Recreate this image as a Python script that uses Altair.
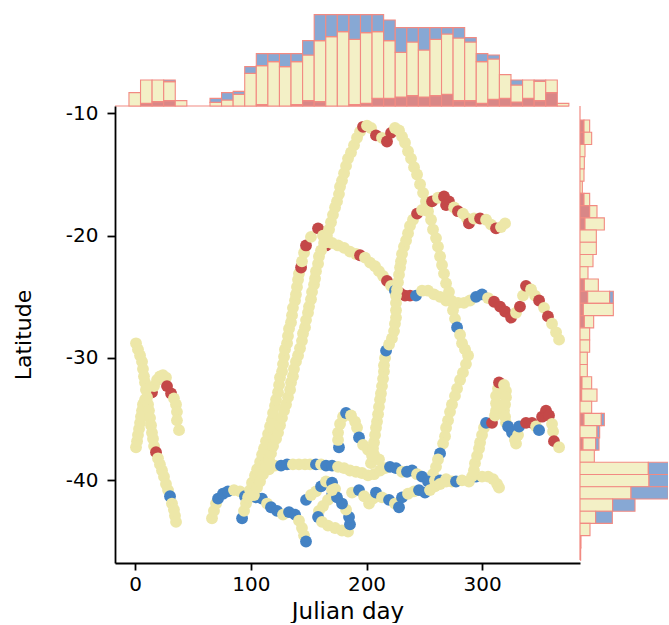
import altair as alt
import pandas as pd

# ---------------------------------------------------------------------------
# Tracks: Julian day, latitude and a class code per fix
# (Y = pale yellow, R = red, B = blue)
# ---------------------------------------------------------------------------
L2_day = [0.7, 1.6, 2.4, 3.3, 4.2, 5.0, 5.9, 6.7, 8.5, 11.1, 14.5, 16.3, 18.9, 21.4,
          24.0, 26.6, 27.5, 31.0, 33.5, 35.3, 36.1, 36.1, 37.9]
L2_lat = [-37.3, -36.8, -36.3, -35.8, -35.3, -34.8, -34.3, -33.8, -33.4, -33.0, -32.8,
          -32.3, -31.8, -31.5, -31.4, -31.6, -32.3, -32.9, -33.3, -33.8, -34.4, -35.1, -35.9]
L2_cls = "YYYYYYYYYYRYYYYYRRYYYYY"

L1_day = [0.7, 2.4, 4.2, 5.9, 6.7, 7.6, 8.5, 9.3, 10.2, 11.1, 11.9, 12.8, 13.7, 14.5,
          15.4, 16.3, 18.0, 19.7, 21.4, 23.2, 24.9, 26.6, 28.4, 30.1, 31.8, 33.5, 34.4, 35.3]
L1_lat = [-28.8, -29.3, -29.8, -30.3, -30.9, -31.5, -32.0, -32.6, -33.2, -33.8, -34.3,
          -34.9, -35.5, -36.1, -36.6, -37.2, -37.7, -38.2, -38.7, -39.2, -39.7, -40.3,
          -40.8, -41.3, -41.9, -42.4, -42.9, -43.4]
L1_cls = "YYYYYYYYYYYYYYYYRYYYYYYBYYYY"

N1_day = [66.4, 68.1, 69.9, 71.6, 75.9, 80.2, 85.4, 90.6, 94.9, 99.3, 104.5, 109.6,
          114.0, 117.4, 122.6, 127.8, 133.0, 138.2, 141.6, 144.2, 146.0, 147.7]
N1_lat = [-43.1, -42.5, -41.9, -41.5, -41.1, -40.9, -40.8, -40.9, -41.3, -41.4, -41.4,
          -41.5, -41.9, -42.2, -42.5, -42.8, -42.6, -42.8, -43.3, -43.9, -44.5, -45.0]
N1_cls = "YYYBBBYYBYBBYBBYBBYYYB"

N2_day = [115.7, 120.9, 126.1, 131.3, 136.4, 141.6, 146.8, 151.2, 156.3, 160.7, 165.0,
          170.2, 175.4, 180.6, 185.7, 190.9, 196.1]
N2_lat = [-39.1, -38.8, -38.8, -38.7, -38.7, -38.7, -38.7, -38.7, -38.7, -38.7, -38.8,
          -38.8, -38.9, -39.0, -39.2, -39.3, -39.4]
N2_cls = "YYBBYYYYBYBBYYYYY"

TA_day = [92.4, 94.1, 95.8, 97.6, 99.3, 101.0, 103.6, 105.4, 108.0, 109.7,
          111.4, 113.1, 114.9, 116.6, 118.3, 119.2, 120.9, 121.8, 123.5, 124.4,
          125.2, 127.0, 127.8, 128.7, 129.5, 131.3, 132.1, 133.0, 134.7, 135.6,
          136.4, 138.2, 139.0, 139.9, 140.8, 141.6, 143.4, 144.2, 146.0, 147.7,
          152.0, 158.1]
TA_lat = [-43.1, -42.5, -41.9, -41.4, -40.8, -40.2, -39.6, -39.1, -38.5, -37.9,
          -37.4, -36.8, -36.2, -35.6, -35.1, -34.5, -33.9, -33.4, -32.8, -32.2,
          -31.6, -31.1, -30.5, -29.9, -29.3, -28.8, -28.2, -27.6, -27.1, -26.5,
          -25.9, -25.3, -24.8, -24.2, -23.6, -23.1, -22.6, -22.1, -21.4, -20.8,
          -20.1, -19.4]
TA_cls = ("BYYYYYYYYY" "YYYYYYYYYY" "YYYYYYYYYY" "YYYYYYRYYR" "YR")

T4_day = [162.4, 165.0, 170.2, 175.4, 180.6, 185.7, 190.9, 194.4, 198.7, 203.1,
          207.4, 210.8, 214.3, 217.7, 221.2, 224.6, 229.0, 233.3, 237.6, 242.8,
          248.0, 253.2, 258.4, 263.6, 268.8, 273.9, 279.1, 284.3, 289.5, 294.7,
          299.9, 305.1, 310.3, 315.5, 319.8, 325.0, 329.3, 332.7, 335.3, 337.9,
          342.3, 345.7, 349.2, 353.5, 356.9, 360.4, 363.9, 366.5]
T4_lat = [-20.0, -20.8, -20.6, -20.8, -21.0, -21.3, -21.5, -21.6, -21.8, -22.2,
          -22.5, -22.9, -23.3, -23.7, -24.1, -24.5, -24.7, -24.9, -24.9, -24.9,
          -24.5, -24.5, -24.8, -25.0, -25.3, -25.4, -25.5, -25.5, -25.3, -25.0,
          -24.8, -25.1, -25.4, -25.8, -26.2, -26.7, -26.3, -25.8, -24.9, -24.1,
          -24.4, -24.9, -25.3, -25.9, -26.6, -27.2, -27.9, -28.5]
T4_cls = "YRYYYYYRYYYYYRYBRRRBYYYYYYYYYBBYRRRRYRYRYYRYRYYY"

TB_day = [102.7, 105.3, 107.9, 110.5, 113.1, 115.7, 117.4, 119.2, 121.8, 123.5,
          125.2, 126.9, 128.7, 130.4, 132.1, 133.9, 134.7, 136.4, 137.3, 139.0,
          140.8, 142.5, 144.2, 145.1, 146.8, 147.7, 149.4, 150.3, 152.0, 152.9,
          154.6, 155.5, 156.3, 158.1, 158.9, 160.7, 163.3, 165.8, 167.6, 169.3,
          171.0, 172.8, 174.5, 176.2, 177.1, 178.8, 180.6, 182.3, 184.0, 186.6,
          189.2, 191.8, 194.4, 197.0, 200.4, 203.9, 208.2, 213.4, 217.7, 221.2,
          224.6, 228.1, 230.7, 233.3, 235.9, 238.5, 241.1, 243.7, 246.3, 248.9,
          251.4, 253.2, 255.8, 257.5, 260.1, 261.8, 263.6, 265.3, 267.0, 268.8,
          271.3, 273.1, 274.8, 276.5, 278.3, 280.9, 282.6, 285.2, 287.8, 286.0,
          283.4, 280.9, 278.3, 276.5, 273.9, 272.2, 270.5, 268.8, 267.9, 266.2,
          263.6, 261.8, 260.1, 257.5, 254.9]
TB_lat = [-41.2, -40.6, -40.1, -39.5, -38.9, -38.3, -37.8, -37.2, -36.6, -36.1,
          -35.5, -34.9, -34.3, -33.8, -33.2, -32.6, -32.0, -31.5, -30.9, -30.3,
          -29.8, -29.2, -28.6, -28.0, -27.5, -26.9, -26.3, -25.8, -25.2, -24.6,
          -24.0, -23.5, -22.9, -22.3, -21.7, -21.2, -20.6, -20.0, -19.5, -18.9,
          -18.3, -17.7, -17.2, -16.6, -16.0, -15.5, -14.9, -14.3, -13.7, -13.2,
          -12.6, -12.0, -11.5, -11.1, -11.0, -11.2, -11.8, -12.0, -12.3, -11.6,
          -11.2, -11.4, -11.9, -12.4, -13.1, -13.7, -14.4, -15.0, -15.8, -16.5,
          -17.2, -18.0, -18.7, -19.5, -20.2, -20.9, -21.7, -22.4, -23.1, -23.9,
          -24.6, -25.3, -26.1, -26.8, -27.5, -28.1, -28.8, -29.3, -29.8, -30.5,
          -31.2, -31.8, -32.5, -33.1, -33.8, -34.4, -35.1, -35.7, -36.4, -37.0,
          -37.8, -38.3, -38.9, -39.5, -40.1]
TB_cls = ("YYYYYYYYYY" "YYYYYYYYYY" "YYYYYYYYYY" "YYYYYYYYYY" "YYYYYYYYYY"
          "YYYRYYRYRR" "YYYYYYYYYY" "YYYYYYYYYY" "YYYYBYYYYY" "YYYYYYYYYY" "BYYYY")

A1_day = [176.2, 175.4, 175.4, 177.1, 179.7, 182.3, 186.6, 190.1, 191.8, 193.5, 197.0,
          201.3, 206.5, 210.8]
A1_lat = [-37.3, -36.7, -36.1, -35.4, -34.8, -34.5, -34.7, -35.2, -35.7, -36.5, -37.1,
          -37.5, -37.9, -38.3]
A1_cls = "BYYYYBYYYBYYYY"

N3_day = [147.7, 152.0, 156.3, 160.7, 165.0, 170.2, 172.8, 170.2, 166.7, 162.4, 158.9,
          158.1, 161.5, 166.7, 172.8, 178.8, 184.0, 185.7, 184.9, 182.3, 178.8, 174.5, 170.2]
N3_lat = [-41.6, -41.2, -40.9, -40.5, -40.1, -40.2, -40.7, -41.2, -41.6, -42.1, -42.5,
          -43.0, -43.4, -43.7, -43.9, -44.1, -44.2, -43.6, -43.0, -42.4, -41.9, -41.4, -40.8]
N3_cls = "BYYBYBYBYYYBYYYYYBBYBBY"

N5_day = [201.3, 206.5, 211.7, 216.0, 220.3, 225.5, 230.7, 235.0, 239.4, 243.7, 248.0,
          253.2, 259.2, 263.6, 268.8]
N5_lat = [-39.6, -39.5, -39.2, -39.0, -38.9, -39.0, -39.3, -39.3, -39.2, -39.5, -39.7,
          -40.1, -40.0, -40.0, -39.9]
N5_cls = "YYYYBBYBBYBBYBY"

N4_day = [187.5, 193.5, 197.9, 202.2, 205.6, 208.2, 213.4, 219.5, 224.6, 228.1, 230.7,
          235.9, 241.1, 245.4, 250.6, 254.9, 259.2, 263.6, 268.8, 273.9, 277.4, 282.6,
          288.6, 294.7, 299.9, 305.1, 309.4, 312.9, 314.6]
N4_lat = [-41.0, -40.8, -41.3, -41.9, -41.5, -41.0, -41.4, -41.6, -41.9, -42.2, -41.4,
          -41.1, -40.9, -40.8, -41.0, -40.8, -40.5, -40.3, -40.1, -40.1, -40.1, -40.0,
          -40.1, -39.7, -39.7, -39.7, -39.9, -40.3, -40.6]
N4_cls = "YBYYYBYBYBBYYBBYYYYYBYYBYYYYY"

T3_day = [203.9, 204.8, 205.6, 206.5, 207.4, 208.2, 209.1, 210.0, 210.8, 211.7,
          212.5, 213.4, 214.3, 215.1, 215.1, 216.0, 216.9, 219.5, 222.0, 223.8,
          224.6, 225.5, 225.5, 225.5, 225.5, 226.4, 227.2, 228.1, 229.0, 229.8,
          230.7, 232.4, 234.2, 235.9, 237.6, 240.2, 243.7, 248.0, 252.3, 256.7,
          261.8, 267.0, 271.3, 268.8, 275.7, 279.1, 283.4, 286.9, 288.6, 293.0,
          298.2, 303.4, 307.7, 312.0, 316.3, 319.8]
T3_lat = [-38.6, -38.0, -37.4, -36.9, -36.3, -35.7, -35.2, -34.6, -34.0, -33.4,
          -32.9, -32.3, -31.7, -31.1, -30.6, -30.0, -29.4, -28.9, -28.4, -27.8,
          -27.2, -26.7, -26.1, -25.5, -24.9, -24.4, -23.8, -23.2, -22.6, -22.1,
          -21.5, -20.9, -20.4, -19.8, -19.2, -18.7, -18.2, -17.9, -17.6, -17.2,
          -16.9, -16.8, -17.2, -17.5, -17.7, -18.0, -18.2, -18.6, -19.0, -18.6,
          -18.6, -18.7, -19.1, -19.4, -19.3, -19.0]
T3_cls = ("YYYYYYYYYY" "YYYYYYBYYY" "YYYYYYYYYY" "YYYYYYRYYR" "YRRRYRYYRY" "RYYRYY")

T5_day = [291.2, 292.9, 293.8, 295.6, 297.3, 298.2, 299.9, 301.6, 303.4, 308.5,
          311.1, 312.0, 312.0, 312.0, 313.7, 314.6, 318.9, 320.6, 320.6, 319.8,
          318.9, 319.8, 320.6, 322.4, 325.8, 328.4, 329.3, 331.0, 331.9, 337.9,
          343.1, 346.6, 349.2, 351.8, 355.2, 357.8, 360.4, 361.3, 362.1, 366.5]
T5_lat = [-39.7, -39.2, -38.6, -38.0, -37.4, -36.9, -36.3, -35.7, -35.3, -35.3,
          -34.7, -34.3, -33.7, -33.1, -32.5, -32.0, -32.2, -32.7, -33.2, -33.8,
          -34.3, -34.8, -35.3, -35.6, -36.1, -36.7, -37.0, -36.3, -35.6, -35.3,
          -35.3, -35.6, -35.9, -34.8, -34.3, -34.7, -35.4, -36.0, -36.8, -37.3]
T5_cls = ("YYYYYYYYBR" "YYYYYRYYYY" "YYYBBYYYBR" "RYBRRRYYRY")

TRACKS = [
    (L2_day, L2_lat, L2_cls), (L1_day, L1_lat, L1_cls), (N1_day, N1_lat, N1_cls),
    (N2_day, N2_lat, N2_cls), (TA_day, TA_lat, TA_cls), (T4_day, T4_lat, T4_cls),
    (TB_day, TB_lat, TB_cls), (A1_day, A1_lat, A1_cls), (N3_day, N3_lat, N3_cls),
    (N5_day, N5_lat, N5_cls), (N4_day, N4_lat, N4_cls), (T3_day, T3_lat, T3_cls),
    (T5_day, T5_lat, T5_cls),
]

# ---------------------------------------------------------------------------
# Marginal histograms (stacked counts per class)
# ---------------------------------------------------------------------------
DAY_BIN_START = -5.4
DAY_BIN_WIDTH = 10.01
top_red = [0, 8, 13, 16, 0, 0, 0, 0, 0, 0, 0, 4, 0, 0, 4, 16, 13, 0, 0, 4,
           8, 23, 23, 27, 31, 27, 31, 35, 16, 16, 8, 20, 23, 12, 23, 16, 40, 0]
top_yellow = [40, 70, 65, 57, 16, 0, 0, 11, 18, 35, 98, 117, 133, 118, 129, 137, 183, 208, 223, 196,
              212, 200, 173, 134, 161, 141, 169, 181, 188, 176, 125, 121, 71, 51, 55, 58, 38, 8]
top_blue = [0, 0, 0, 5, 0, 0, 0, 12, 22, 9, 20, 36, 24, 39, 24, 43, 78, 66, 51, 74,
            54, 51, 62, 74, 43, 67, 35, 19, 31, 13, 24, 12, 0, 15, 0, 4, 0, 0]

LAT_BIN_TOP = -10.55
LAT_BIN_WIDTH = 0.9992
# listed from the northernmost bin southwards
right_red = [12, 12, 0, 0, 0, 0, 12, 29, 15, 0, 0, 0, 0, 13, 23, 10, 13, 0,
             0, 0, 0, 6, 5, 0, 12, 0, 9, 0, 0, 0, 0, 0, 0, 0, 0, 0]
right_yellow = [17, 23, 15, 13, 12, 7, 17, 22, 58, 49, 49, 39, 24, 42, 66, 90, 28, 29,
                29, 22, 22, 29, 46, 35, 52, 51, 38, 43, 205, 207, 153, 98, 47, 30, 3, 2]
right_blue = [0, 0, 0, 0, 0, 0, 0, 0, 0, 0, 0, 0, 0, 0, 11, 0, 0, 0,
              0, 0, 0, 0, 0, 0, 9, 8, 10, 0, 80, 80, 112, 67, 50, 0, 0, 0]

CLASSES = ["R", "Y", "B"]
POINT_COLORS = ["#C44848", "#EDE7A8", "#4382C4"]
HIST_COLORS = ["#D98787", "#F3F0C6", "#87A8D4"]
EDGE = "#F28A82"

DAY_DOMAIN = [-17.47, 384.6]
LAT_DOMAIN = [-46.76, -9.40]
MAIN_W, MAIN_H = 465, 457
TOP_H, SIDE_W = 106, 88
TOP_MAX, SIDE_MAX = 318, 264

# ---------------------------------------------------------------------------
rows = []
for days, lats, cls in TRACKS:
    assert len(days) == len(lats) == len(cls), (len(days), len(lats), len(cls))
    for d, la, c in zip(days, lats, cls):
        rows.append({"day": d, "lat": la, "fix": c})
pts = pd.DataFrame(rows)
pts["seq"] = range(len(pts))


def stacked(reds, yellows, blues):
    out = []
    for i, (r, y, b) in enumerate(zip(reds, yellows, blues)):
        lo = 0
        for c, v in (("R", r), ("Y", y), ("B", b)):
            if v > 0:
                out.append({"bin": i, "cls": c, "lo": lo, "hi": lo + v})
                lo += v
    return pd.DataFrame(out)


top_df = stacked(top_red, top_yellow, top_blue)
top_df["d0"] = DAY_BIN_START + top_df["bin"] * DAY_BIN_WIDTH
top_df["d1"] = top_df["d0"] + DAY_BIN_WIDTH

side_df = stacked(right_red, right_yellow, right_blue)
side_df["l1"] = LAT_BIN_TOP - side_df["bin"] * LAT_BIN_WIDTH
side_df["l0"] = side_df["l1"] - LAT_BIN_WIDTH

day_scale = alt.Scale(domain=DAY_DOMAIN, nice=False, zero=False)
lat_scale = alt.Scale(domain=LAT_DOMAIN, nice=False, zero=False)
hist_color = alt.Color("cls:N", scale=alt.Scale(domain=CLASSES, range=HIST_COLORS), legend=None)

# top marginal
top_bars = alt.Chart(top_df).mark_rect(stroke=EDGE, strokeWidth=1.1).encode(
    x=alt.X("d0:Q", scale=day_scale, axis=None),
    x2="d1:Q",
    y=alt.Y("lo:Q", scale=alt.Scale(domain=[0, TOP_MAX], nice=False), axis=None),
    y2="hi:Q",
    color=hist_color,
)
top_base = alt.Chart(pd.DataFrame({"a": [DAY_DOMAIN[0]], "b": [DAY_BIN_START + len(top_red) * DAY_BIN_WIDTH], "c": [0]})).mark_rule(
    color=EDGE, strokeWidth=1.2
).encode(
    x=alt.X("a:Q", scale=day_scale, axis=None),
    x2="b:Q",
    y=alt.Y("c:Q", scale=alt.Scale(domain=[0, TOP_MAX], nice=False), axis=None),
)
top = alt.layer(top_base, top_bars).properties(width=MAIN_W, height=TOP_H)

# right marginal
side_bars = alt.Chart(side_df).mark_rect(stroke=EDGE, strokeWidth=1.1, clip=True).encode(
    y=alt.Y("l0:Q", scale=lat_scale, axis=None),
    y2="l1:Q",
    x=alt.X("lo:Q", scale=alt.Scale(domain=[0, SIDE_MAX], nice=False), axis=None),
    x2="hi:Q",
    color=hist_color,
)
side_base = alt.Chart(pd.DataFrame({"a": [LAT_DOMAIN[1]], "b": [LAT_BIN_TOP - len(right_red) * LAT_BIN_WIDTH], "c": [0]})).mark_rule(
    color=EDGE, strokeWidth=1.2
).encode(
    y=alt.Y("a:Q", scale=lat_scale, axis=None),
    y2="b:Q",
    x=alt.X("c:Q", scale=alt.Scale(domain=[0, SIDE_MAX], nice=False), axis=None),
)
side = alt.layer(side_base, side_bars).properties(width=SIDE_W, height=MAIN_H)

# empty corner
corner = alt.Chart(pd.DataFrame({"v": [0]})).mark_point(opacity=0).encode(
    x=alt.X("v:Q", axis=None), y=alt.Y("v:Q", axis=None)
).properties(width=SIDE_W, height=TOP_H)

# joint scatter
main = alt.Chart(pts).mark_circle(size=140, opacity=1, strokeWidth=0).encode(
    x=alt.X("day:Q", scale=day_scale,
            axis=alt.Axis(values=[0, 100, 200, 300], title="Julian day",
                          labelFontSize=20, titleFontSize=23, tickSize=7, tickWidth=1.8,
                          domainWidth=1.8, labelPadding=4, titlePadding=6,
                          labelExpr="'' + datum.value")),
    y=alt.Y("lat:Q", scale=lat_scale,
            axis=alt.Axis(values=[-10, -20, -30, -40], title="Latitude",
                          labelFontSize=20, titleFontSize=22, tickSize=8, tickWidth=1.8,
                          domainWidth=1.8, labelPadding=9, titlePadding=30,
                          labelExpr="'' + datum.value")),
    color=alt.Color("fix:N", scale=alt.Scale(domain=CLASSES, range=POINT_COLORS), legend=None),
    order=alt.Order("seq:Q"),
).properties(width=MAIN_W, height=MAIN_H)

chart = alt.concat(
    top, corner, main, side, columns=2, spacing=0, align="each", bounds="flush"
).resolve_scale(color="independent").properties(
    padding={"left": 12, "top": 0, "right": 0, "bottom": 0}, background="white"
).configure_view(stroke=None).configure_axis(
    labelFont="DejaVu Sans", titleFont="DejaVu Sans", labelColor="black",
    titleColor="black", domainColor="black", tickColor="black", grid=False,
    titleFontWeight="normal",
)

chart.save("out.html", embed_options={"renderer": "svg", "actions": False})
